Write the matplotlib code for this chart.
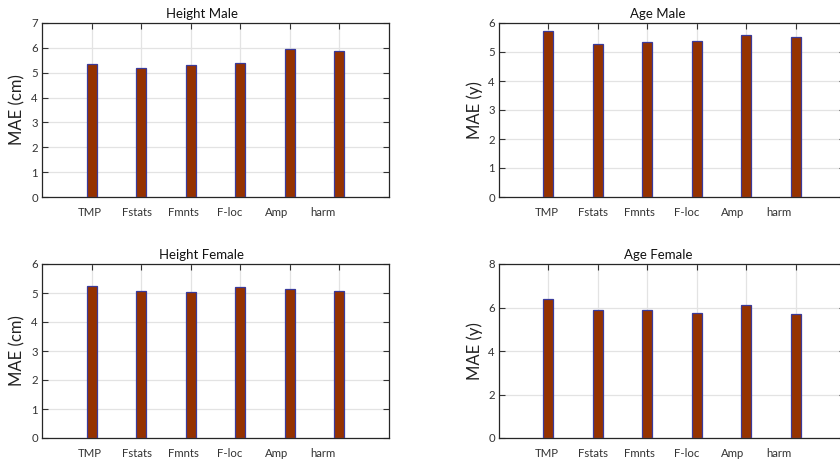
import matplotlib
matplotlib.use('Agg')
import matplotlib.pyplot as plt
import numpy as np

plt.rcParams['font.family'] = ['Lato', 'DejaVu Sans']

methods = ['TMP', 'Fstats', 'Fmnts', 'F-loc', 'Amp', 'harm']

height_male = [5.34, 5.20, 5.30, 5.38, 5.94, 5.88]
age_male = [5.72, 5.29, 5.33, 5.39, 5.60, 5.51]
height_female = [5.23, 5.07, 5.02, 5.20, 5.15, 5.07]
age_female = [6.38, 5.90, 5.88, 5.73, 6.10, 5.69]

panels = [
    ('Height Male', height_male, 'MAE (cm)', 7, 1),
    ('Age Male', age_male, 'MAE (y)', 6, 1),
    ('Height Female', height_female, 'MAE (cm)', 6, 1),
    ('Age Female', age_female, 'MAE (y)', 8, 2),
]

W, H = 840, 462
my_dpi = 100
fig = plt.figure(figsize=(W / my_dpi, H / my_dpi), dpi=my_dpi)

# axes boxes in pixels: left, top, width, height
boxes = [(42, 23, 347, 174), (499, 23, 346, 174),
         (42, 264, 347, 174), (499, 264, 346, 174)]

x = np.arange(1, len(methods) + 1)

for (title, vals, ylab, ymax, step), (l, t, w, h) in zip(panels, boxes):
    ax = fig.add_axes([l / W, 1 - (t + h) / H, w / W, h / H])
    ax.bar(x, vals, width=0.2, color='#953200', edgecolor='#3a3a9a',
           linewidth=0.9, zorder=3)
    ax.set_xlim(0, 7)
    ax.set_ylim(0, ymax)
    ax.set_yticks(np.arange(0, ymax + 0.1, step))
    ax.set_xticks(x)
    ax.set_xticklabels([])
    # labels sit a little left of the bars in the original
    for i, m in enumerate(methods):
        ax.text(0.97 + 0.94 * i, -0.06, m, transform=ax.get_xaxis_transform(),
                ha='center', va='top', fontsize=8.2, color='#333333')
    ax.grid(True, color='#e3e3e3', linewidth=0.9, zorder=0)
    ax.tick_params(direction='in', length=4, width=0.8, color='#333333',
                   labelsize=8.2, labelcolor='#333333', top=True, right=True,
                   bottom=False, pad=3)
    for s in ax.spines.values():
        s.set_color('#262626')
        s.set_linewidth(0.9)
    ax.text(0.46, 1.02, title, transform=ax.transAxes, ha='center',
            va='bottom', fontsize=9.5, color='#111111')
    ax.set_ylabel(ylab, fontsize=12, color='#222222', labelpad=4)

plt.savefig('out.png', dpi=my_dpi)
